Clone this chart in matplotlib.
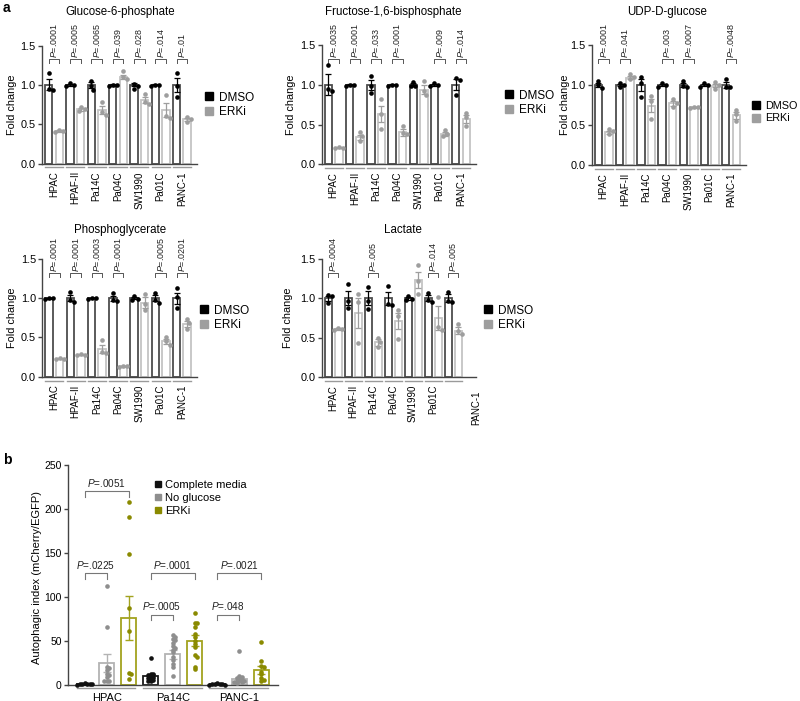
import numpy as np
import matplotlib
matplotlib.use("Agg")
import matplotlib.pyplot as plt
from matplotlib.lines import Line2D

plt.rcParams['font.family'] = ['Liberation Sans', 'DejaVu Sans']
plt.rcParams['mathtext.fontset'] = 'custom'
plt.rcParams['mathtext.it'] = 'Liberation Sans:italic'
plt.rcParams['mathtext.rm'] = 'Liberation Sans'

# ---------------- data : panel a ----------------
cells = ["HPAC", "HPAF-II", "Pa14C", "Pa04C", "SW1990", "Pa01C", "PANC-1"]
dmso_mean = [1.0, 1.0, 1.0, 1.0, 1.0, 1.0, 1.0]

g6p_dmso_pts = [[1.15, 0.95, 0.93], [1.02, 1.0, 0.98], [1.05, 0.98, 0.93], [1.0, 1.0, 0.99],
                [1.01, 0.99, 0.95], [1.0, 1.0, 0.99], [1.15, 0.98, 0.85]]
g6p_dmso_sem = [0.07, 0.01, 0.04, 0.01, 0.02, 0.005, 0.09]
g6p_erki_mean = [0.41, 0.69, 0.68, 1.10, 0.81, 0.68, 0.56]
g6p_erki_sem = [0.01, 0.02, 0.05, 0.03, 0.04, 0.09, 0.02]
g6p_erki_pts = [[0.42, 0.41, 0.40], [0.72, 0.69, 0.67], [0.78, 0.65, 0.62], [1.17, 1.10, 1.08],
                [0.88, 0.78, 0.76], [0.87, 0.60, 0.58], [0.59, 0.57, 0.53]]
g6p_p = [".0001", ".0005", ".0065", ".039", ".028", ".014", ".01"]

f16_dmso_pts = [[1.25, 0.95, 0.92], [1.0, 1.0, 0.99], [1.11, 0.98, 0.90], [1.0, 1.0, 0.99],
                [1.04, 0.99, 0.98], [1.02, 1.0, 0.98], [1.09, 1.06, 0.87]]
f16_dmso_sem = [0.13, 0.005, 0.06, 0.005, 0.02, 0.01, 0.07]
f16_erki_mean = [0.21, 0.34, 0.63, 0.40, 0.94, 0.38, 0.57]
f16_erki_sem = [0.005, 0.03, 0.10, 0.04, 0.06, 0.02, 0.05]
f16_erki_pts = [[0.22, 0.21, 0.205], [0.40, 0.35, 0.29], [0.82, 0.63, 0.45], [0.48, 0.39, 0.38],
                [1.05, 0.92, 0.87], [0.43, 0.38, 0.36], [0.65, 0.59, 0.48]]
f16_p = [".0035", ".0001", ".033", ".0001", None, ".009", ".014"]

udp_dmso_pts = [[1.05, 1.0, 0.96], [1.03, 1.0, 0.98], [1.10, 1.03, 0.85], [1.02, 1.0, 0.98],
                [1.05, 0.99, 0.97], [1.02, 1.0, 0.98], [1.08, 0.97, 0.97]]
udp_dmso_sem = [0.03, 0.01, 0.08, 0.01, 0.02, 0.01, 0.04]
udp_erki_mean = [0.41, 1.09, 0.74, 0.77, 0.72, 0.99, 0.62]
udp_erki_sem = [0.02, 0.02, 0.08, 0.03, 0.005, 0.02, 0.04]
udp_erki_pts = [[0.45, 0.42, 0.39], [1.14, 1.10, 1.07], [0.86, 0.80, 0.58], [0.82, 0.78, 0.73],
                [0.73, 0.72, 0.715], [1.04, 1.0, 0.95], [0.69, 0.64, 0.55]]
udp_p = [".0001", ".041", None, ".003", ".0007", None, ".0048"]

pg_dmso_pts = [[1.0, 1.0, 0.99], [1.08, 0.98, 0.95], [1.0, 1.0, 0.995], [1.07, 0.98, 0.97],
               [1.03, 0.99, 0.98], [1.07, 0.98, 0.94], [1.13, 1.02, 0.87]]
pg_dmso_sem = [0.005, 0.04, 0.003, 0.03, 0.015, 0.04, 0.07]
pg_erki_mean = [0.23, 0.28, 0.35, 0.13, 0.94, 0.45, 0.67]
pg_erki_sem = [0.01, 0.005, 0.05, 0.01, 0.07, 0.03, 0.04]
pg_erki_pts = [[0.24, 0.23, 0.22], [0.285, 0.28, 0.275], [0.47, 0.32, 0.30], [0.14, 0.13, 0.125],
               [1.05, 0.93, 0.85], [0.51, 0.45, 0.41], [0.74, 0.69, 0.61]]
pg_p = [".0001", ".0001", ".0003", ".0001", None, ".0005", ".0201"]

lac_dmso_pts = [[1.04, 1.03, 0.94], [1.18, 0.97, 0.88], [1.15, 0.97, 0.87], [1.16, 0.93, 0.92],
                [1.03, 0.99, 0.98], [1.07, 0.98, 0.95], [1.08, 0.97, 0.95]]
lac_dmso_sem = [0.03, 0.09, 0.09, 0.08, 0.015, 0.04, 0.05]
lac_erki_mean = [0.61, 0.81, 0.44, 0.71, 1.23, 0.75, 0.59]
lac_erki_sem = [0.01, 0.19, 0.04, 0.10, 0.10, 0.15, 0.04]
lac_erki_pts = [[0.62, 0.61, 0.60], [1.05, 0.95, 0.43], [0.50, 0.45, 0.38], [0.85, 0.78, 0.48],
                [1.42, 1.22, 1.05], [1.02, 0.63, 0.60], [0.67, 0.58, 0.55]]
lac_p = [".0004", None, ".005", None, None, ".014", ".005"]

# ---------------- data : panel b ----------------
b_groups = ["HPAC", "Pa14C", "PANC-1"]
b_conditions = ["Complete media", "No glucose", "ERKi"]
b_mean = [[1.0, 25.0, 76.0], [10.0, 35.0, 50.5], [1.0, 7.0, 17.0]]
b_sem = [[0.3, 10.0, 25.0], [2.5, 5.0, 6.0], [0.3, 2.5, 4.5]]
b_pts = [
    [[2.0, 1.5, 1.2, 1.0, 0.8, 0.6, 0.4],
     [113, 66, 20, 19, 17, 13, 11, 9, 5, 5, 4],
     [208, 191, 149, 87, 61, 14, 12, 7]],
    [[31, 13, 12, 11, 10, 9, 8, 7, 6, 5, 4],
     [57, 55, 52, 51, 48, 44, 42, 40, 37, 32, 28, 24, 20, 10],
     [82, 71, 70, 66, 58, 55, 50, 47, 43, 34, 32, 21, 18]],
    [[2.0, 1.5, 1.2, 1.0, 0.8, 0.5, 0.3],
     [39, 10, 9, 8, 7, 6, 5, 5, 4, 3, 3, 2],
     [49, 27, 22, 20, 15, 12, 8, 6, 5]],
]
# (group, cond_a, cond_b, level, label)
b_brackets = [(0, 0, 2, 220, ".0051"), (0, 0, 1, 127, ".0225"),
              (1, 0, 2, 127, ".0001"), (1, 0, 1, 80, ".0005"),
              (2, 0, 2, 127, ".0021"), (2, 0, 1, 80, ".048")]

# ---------------- figure ----------------
W, H = 800, 701
fig = plt.figure(figsize=(W / 100, H / 100), dpi=100)


def rect(left, right, top, bottom):
    return [left / W, 1 - bottom / H, (right - left) / W, (bottom - top) / H]


def swarm(vals, sy, sx, diam, sep=0.95):
    """horizontal offsets (data units) so that markers do not overlap too much."""
    order = np.argsort(vals)[::-1]
    placed = []
    offs = np.zeros(len(vals))
    step = diam * sep * 0.5
    cands = [0]
    for j in range(1, 40):
        cands += [j, -j]
    for idx in order:
        y = vals[idx] * sy
        xo = 0.0
        for c in cands:
            xo = c * step
            if all((xo - px) ** 2 + (y - py) ** 2 >= (diam * sep) ** 2 for px, py in placed):
                break
        placed.append((xo, y))
        offs[idx] = xo / sx
    return offs


SPINE = '#444444'
D_EDGE = '#4d4d4d'
E_EDGE = '#c4c4c4'
E_PT = '#9e9e9e'
ULINE = '#9a9a9a'


def panel_a(r, title, tx, ty, ylx, d_pts, d_sem, e_mean, e_sem, e_pts, pv, lx, ly,
            shift_last=False, lfs=8.5):
    ax = fig.add_axes(rect(*r))
    n = len(cells)
    x = np.arange(n) * 2.0
    bw = 0.7
    ax.bar(x, dmso_mean, width=bw, facecolor='white', edgecolor=D_EDGE, linewidth=1.3, zorder=2)
    ax.bar(x + 1, e_mean, width=bw, facecolor='white', edgecolor=E_EDGE, linewidth=1.3, zorder=2)
    ax.errorbar(x, dmso_mean, yerr=d_sem, fmt='none', ecolor='black', elinewidth=0.9,
                capsize=2.2, capthick=0.9, zorder=3)
    ax.errorbar(x + 1, e_mean, yerr=e_sem, fmt='none', ecolor=E_PT, elinewidth=0.9,
                capsize=2.2, capthick=0.9, zorder=3)
    px_w = (r[1] - r[0]) / 14.55
    px_h = (r[3] - r[2]) / 1.5
    for i in range(n):
        o = swarm(np.array(d_pts[i]), px_h, px_w, 4.2)
        ax.scatter(x[i] + o, d_pts[i], s=11, color='black', zorder=4, clip_on=False, linewidths=0)
        o = swarm(np.array(e_pts[i]), px_h, px_w, 4.2)
        ax.scatter(x[i] + 1 + o, e_pts[i], s=11, color=E_PT, zorder=4, clip_on=False, linewidths=0)
        ax.plot([x[i] - 0.35, x[i] + 1.35], [-0.05, -0.05], color=ULINE, lw=1.0, clip_on=False)
        if pv[i] is not None:
            yb = 1.325
            ax.plot([x[i], x[i], x[i] + 1, x[i] + 1], [yb - 0.05, yb, yb, yb - 0.05],
                    color='#555555', lw=0.7, clip_on=False)
            ax.text(x[i] + 0.5, yb + 0.012, r'$P$=' + pv[i], rotation=90, ha='center', va='bottom',
                    fontsize=6.4, color='#222222')
    ax.set_xlim(-0.63, 13.92)
    ax.set_ylim(0, 1.5)
    ax.set_yticks([0, 0.5, 1.0, 1.5])
    ax.set_yticklabels(['0.0', '0.5', '1.0', '1.5'], fontsize=7.8)
    if shift_last:
        ax.set_xticks(x[:-1] + 0.5)
        ax.set_xticklabels(cells[:-1], rotation=90, fontsize=6.9)
        ax.set_xticks([x[-1] + 0.5 + 2.3], minor=True)
        ax.set_xticklabels([cells[-1]], minor=True, rotation=90, fontsize=6.9)
        ax.tick_params(axis='x', which='minor', length=0, pad=9.5)
    else:
        ax.set_xticks(x + 0.5)
        ax.set_xticklabels(cells, rotation=90, fontsize=6.9)
    ax.tick_params(axis='x', which='major', length=0, pad=5.5)
    ax.tick_params(axis='y', length=3, width=1, color=SPINE, pad=1.5)
    for s in ['top', 'right']:
        ax.spines[s].set_visible(False)
    for s in ['left', 'bottom']:
        ax.spines[s].set_color(SPINE)
        ax.spines[s].set_linewidth(1.0)
    fig.text(tx / W, 1 - ty / H, title, ha='center', va='center', fontsize=8.3)
    fig.text(ylx / W, 1 - ((r[2] + r[3]) / 2) / H, 'Fold change', rotation=90, ha='center',
             va='center', fontsize=7.8)
    handles = [Line2D([], [], marker='s', ls='', color='black', markersize=5.5),
               Line2D([], [], marker='s', ls='', color=E_PT, markersize=5.5)]
    fig.legend(handles, ['DMSO', 'ERKi'], loc='center left',
               bbox_to_anchor=(lx / W, 1 - ly / H), frameon=False, fontsize=lfs,
               handlelength=0.7, handletextpad=0.5, labelspacing=0.25, borderpad=0,
               borderaxespad=0)
    return ax


panel_a((42, 197, 45.5, 163.5), "Glucose-6-phosphate", 120, 12, 12,
        g6p_dmso_pts, g6p_dmso_sem, g6p_erki_mean, g6p_erki_sem, g6p_erki_pts, g6p_p, 205, 105)
panel_a((321.7, 476, 45, 164.3), "Fructose-1,6-bisphosphate", 393, 12, 291,
        f16_dmso_pts, f16_dmso_sem, f16_erki_mean, f16_erki_sem, f16_erki_pts, f16_p, 505, 103)
panel_a((591.7, 746, 45, 165), "UDP-D-glucose", 667, 12, 565,
        udp_dmso_pts, udp_dmso_sem, udp_erki_mean, udp_erki_sem, udp_erki_pts, udp_p, 752, 112,
        lfs=7.8)
panel_a((42.3, 197, 259, 376.7), "Phosphoglycerate", 120, 230, 12,
        pg_dmso_pts, pg_dmso_sem, pg_erki_mean, pg_erki_sem, pg_erki_pts, pg_p, 200, 318)
panel_a((321.7, 476, 259, 377), "Lactate", 403, 230, 288,
        lac_dmso_pts, lac_dmso_sem, lac_erki_mean, lac_erki_sem, lac_erki_pts, lac_p, 484, 318,
        shift_last=True)

# ---------------- panel b ----------------
b_edge = ['#1a1a1a', '#b3b3b3', '#a3a31f']
b_ptc = ['#111111', '#8e8e8e', '#8a8a00']
rb = (68, 278, 465, 685)
axb = fig.add_axes(rect(*rb))
sxb = (rb[1] - rb[0]) / 9.51
syb = (rb[3] - rb[2]) / 250.0
for g in range(3):
    for c in range(3):
        xp = 3 * g + c
        axb.bar(xp, b_mean[g][c], width=0.68, facecolor='white', edgecolor=b_edge[c],
                linewidth=1.3, zorder=2)
        axb.errorbar(xp, b_mean[g][c], yerr=b_sem[g][c], fmt='none',
                     ecolor=b_edge[c] if c else 'black',
                     elinewidth=1.0, capsize=2.8, capthick=1.0, zorder=3)
        vals = np.array(b_pts[g][c], dtype=float)
        o = swarm(vals, syb, sxb, 4.2, sep=0.6)
        axb.scatter(xp + o, vals, s=11, color=b_ptc[c], zorder=4, linewidths=0, clip_on=False)
    axb.plot([3 * g - 0.35, 3 * g + 2.3], [-3.5, -3.5], color=ULINE, lw=1.0, clip_on=False)
for g, ca, cb, lev, lab in b_brackets:
    xa, xb = 3 * g + ca, 3 * g + cb
    axb.plot([xa, xa, xb, xb], [lev - 6, lev, lev, lev - 6], color='#777777', lw=0.8, clip_on=False)
    axb.text((xa + xb) / 2, lev + 2.5, r'$P$=' + lab, ha='center', va='bottom', fontsize=7.2,
             color='#222222')
axb.set_xlim(-0.75, 8.76)
axb.set_ylim(0, 250)
axb.set_yticks([0, 50, 100, 150, 200, 250])
axb.set_yticklabels(['0', '50', '100', '150', '200', '250'], fontsize=7.5)
axb.set_xticks([1, 4, 7])
axb.set_xticklabels(b_groups, fontsize=8)
axb.tick_params(axis='x', length=0, pad=5.5)
axb.tick_params(axis='y', length=3, width=1, color=SPINE, pad=1.5)
for s in ['top', 'right']:
    axb.spines[s].set_visible(False)
for s in ['left', 'bottom']:
    axb.spines[s].set_color(SPINE)
    axb.spines[s].set_linewidth(1.0)
fig.text(37 / W, 1 - 578 / H, 'Autophagic index (mCherry/EGFP)', rotation=90, ha='center',
         va='center', fontsize=8)
hb = [Line2D([], [], marker='s', ls='', color=b_ptc[c], markersize=5) for c in range(3)]
fig.legend(hb, b_conditions, loc='upper left', bbox_to_anchor=(155 / W, 1 - 480 / H),
           frameon=False, fontsize=8, handlelength=0.6, handletextpad=0.3, labelspacing=0.25,
           borderpad=0, borderaxespad=0)

fig.text(3 / W, 1 - 8 / H, 'a', fontsize=10, fontweight='bold', ha='left', va='center')
fig.text(3 / W, 1 - 460 / H, 'b', fontsize=10, fontweight='bold', ha='left', va='center')

fig.savefig('out.png', dpi=100)
